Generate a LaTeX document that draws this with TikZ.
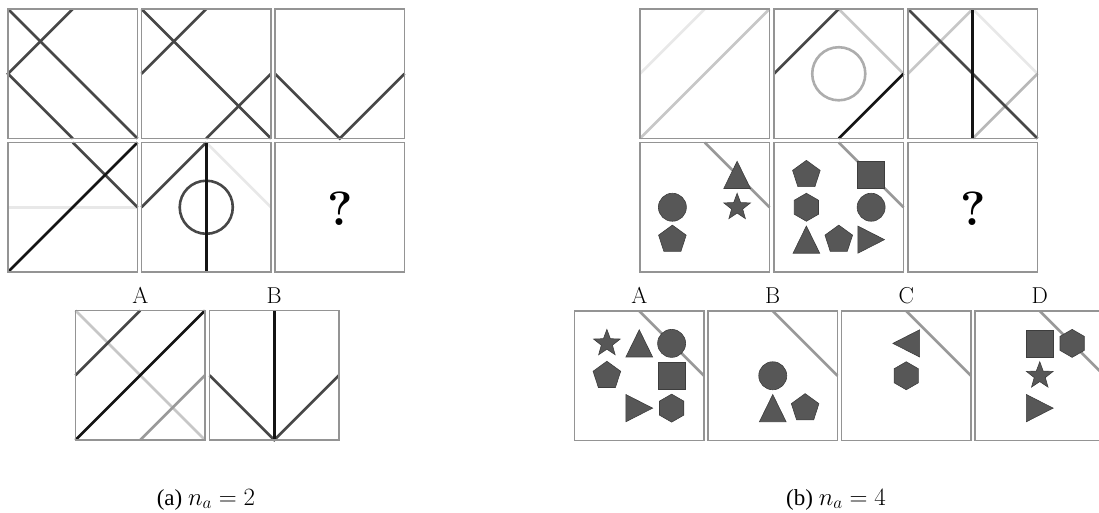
\documentclass[tikz,border=0pt]{standalone}
\usepackage{fontspec}
\usepackage{tikz}
\usetikzlibrary{shapes.geometric}
\newfontfamily\capfont{Liberation Serif}

\tikzset{
  cell/.style={shift={#1}, scale=129.5},
  frame/.style={draw=black!42, line width=1.4pt},
  ln/.style={line width=2.6pt},
  dk/.style={ln, draw=black!72},
  bk/.style={ln, draw=black!92},
  md/.style={ln, draw=black!40},
  lt/.style={ln, draw=black!22},
  vlt/.style={ln, draw=black!9},
  shp/.style={fill=black!66, draw=black!76, line width=0.6pt, inner sep=0pt, outer sep=0pt},
  circ/.style={shp, circle, minimum size=28pt},
  sqr/.style={shp, rectangle, minimum size=27pt},
  pent/.style={shp, regular polygon, regular polygon sides=5, minimum size=29pt},
  hexa/.style={shp, regular polygon, regular polygon sides=6, shape border rotate=30, minimum size=28pt},
  starr/.style={shp, star, star points=5, star point ratio=2.4, minimum size=28pt},
  qm/.style={font=\fontsize{48}{48}\selectfont\bfseries, inner sep=0pt},
  lab/.style={font=\fontsize{23}{23}\selectfont, anchor=base, inner sep=0pt},
  captext/.style={font=\fontsize{23}{27}\selectfont\capfont, anchor=base, inner sep=0pt},
}
% triangles drawn as paths, centre given in cell units
\newcommand{\triup}[2]{\filldraw[shp] (#1-0.103,#2+0.105) -- (#1+0.103,#2+0.105) -- (#1,#2-0.105) -- cycle;}
\newcommand{\triright}[2]{\filldraw[shp] (#1-0.103,#2-0.105) -- (#1-0.103,#2+0.105) -- (#1+0.103,#2) -- cycle;}
\newcommand{\trileft}[2]{\filldraw[shp] (#1+0.103,#2-0.105) -- (#1+0.103,#2+0.105) -- (#1-0.103,#2) -- cycle;}

\begin{document}
\begin{tikzpicture}[x=1pt, y=-1pt]
\useasboundingbox (0,0) rectangle (1099,512);
\clip (0,0) rectangle (1099,512);

% ---------- (a) left puzzle ----------
\begin{scope}[cell={(8,9)}]
  \draw[dk] (0,0) -- (1,1);
  \draw[dk] (0.5,0) -- (0,0.5) -- (0.5,1);
  \draw[frame] (0,0) rectangle (1,1);
\end{scope}
\begin{scope}[cell={(141.5,9)}]
  \draw[dk] (0,0) -- (1,1);
  \draw[dk] (0.5,0) -- (0,0.5);
  \draw[dk] (1,0.5) -- (0.5,1);
  \draw[frame] (0,0) rectangle (1,1);
\end{scope}
\begin{scope}[cell={(275,9)}]
  \draw[dk] (0,0.5) -- (0.5,1) -- (1,0.5);
  \draw[frame] (0,0) rectangle (1,1);
\end{scope}
\begin{scope}[cell={(8,142.5)}]
  \draw[vlt] (0,0.5) -- (1,0.5);
  \draw[dk] (0.5,0) -- (1,0.5);
  \draw[bk] (0,1) -- (1,0);
  \draw[frame] (0,0) rectangle (1,1);
\end{scope}
\begin{scope}[cell={(141.5,142.5)}]
  \draw[vlt] (0.5,0) -- (1,0.5);
  \draw[dk] (0,0.5) -- (0.5,0);
  \draw[dk] (0.5,0.5) circle (0.205);
  \draw[bk] (0.5,0) -- (0.5,1);
  \draw[frame] (0,0) rectangle (1,1);
\end{scope}
\begin{scope}[cell={(275,142.5)}]
  \node[qm] (lq) at (0.5,0.51) {?};
  \draw[frame] (0,0) rectangle (1,1);
\end{scope}
% answers
\begin{scope}[cell={(75.5,310.5)}]
  \draw[lt] (0,0) -- (1,1);
  \draw[dk] (0.5,0) -- (0,0.5);
  \draw[md] (0.5,1) -- (1,0.5);
  \draw[bk] (0,1) -- (1,0);
  \draw[frame] (0,0) rectangle (1,1);
\end{scope}
\begin{scope}[cell={(209.5,310.5)}]
  \draw[dk] (0,0.5) -- (0.5,1) -- (1,0.5);
  \draw[bk] (0.5,0) -- (0.5,1);
  \draw[frame] (0,0) rectangle (1,1);
\end{scope}
\node[lab] (la) at (140.25,303) {A};
\node[lab] (lb) at (274.25,303) {B};
\node[captext] (capa) at (206,505) {(a) $n_a=2$};

% ---------- (b) right puzzle ----------
\begin{scope}[cell={(640,9)}]
  \draw[vlt] (0.5,0) -- (0,0.5);
  \draw[lt] (1,0) -- (0,1);
  \draw[frame] (0,0) rectangle (1,1);
\end{scope}
\begin{scope}[cell={(774,9)}]
  \draw[lt] (0.5,0) -- (1,0.5);
  \draw[dk] (0.5,0) -- (0,0.5);
  \draw[bk] (1,0.5) -- (0.5,1);
  \draw[ln, draw=black!32] (0.5,0.5) circle (0.205);
  \draw[frame] (0,0) rectangle (1,1);
\end{scope}
\begin{scope}[cell={(908,9)}]
  \draw[vlt] (0.5,0) -- (1,0.5);
  \draw[lt] (0.5,0) -- (0,0.5);
  \draw[ln, draw=black!28] (1,0.5) -- (0.5,1);
  \draw[dk] (0,0) -- (1,1);
  \draw[bk] (0.5,0) -- (0.5,1);
  \draw[frame] (0,0) rectangle (1,1);
\end{scope}
\begin{scope}[cell={(640,142.5)}]
  \draw[md] (0.5,0) -- (1,0.5);
  \triup{0.75}{0.25}
  \node[starr] (r21s) at (0.75,0.5) {};
  \node[circ] (r21c) at (0.25,0.5) {};
  \node[pent] (r21p) at (0.25,0.75) {};
  \draw[frame] (0,0) rectangle (1,1);
\end{scope}
\begin{scope}[cell={(774,142.5)}]
  \draw[md] (0.5,0) -- (1,0.5);
  \node[pent] (r22p) at (0.25,0.25) {};
  \node[sqr] (r22q) at (0.75,0.25) {};
  \node[hexa] (r22h) at (0.25,0.5) {};
  \node[circ] (r22c) at (0.75,0.5) {};
  \triup{0.25}{0.75}
  \node[pent] (r22p2) at (0.5,0.75) {};
  \triright{0.75}{0.75}
  \draw[frame] (0,0) rectangle (1,1);
\end{scope}
\begin{scope}[cell={(908,142.5)}]
  \node[qm] (rq) at (0.5,0.51) {?};
  \draw[frame] (0,0) rectangle (1,1);
\end{scope}
% answers
\begin{scope}[cell={(574.5,311)}]
  \draw[md] (0.5,0) -- (1,0.5);
  \node[starr] (ras) at (0.25,0.25) {};
  \triup{0.5}{0.25}
  \node[circ] (rac) at (0.75,0.25) {};
  \node[pent] (rap) at (0.25,0.5) {};
  \node[sqr] (raq) at (0.75,0.5) {};
  \triright{0.5}{0.75}
  \node[hexa] (rah) at (0.75,0.75) {};
  \draw[frame] (0,0) rectangle (1,1);
\end{scope}
\begin{scope}[cell={(708,311)}]
  \draw[md] (0.5,0) -- (1,0.5);
  \node[circ] (rbc) at (0.5,0.5) {};
  \triup{0.5}{0.75}
  \node[pent] (rbp) at (0.75,0.75) {};
  \draw[frame] (0,0) rectangle (1,1);
\end{scope}
\begin{scope}[cell={(841.5,311)}]
  \draw[md] (0.5,0) -- (1,0.5);
  \trileft{0.5}{0.25}
  \node[hexa] (rch) at (0.5,0.5) {};
  \draw[frame] (0,0) rectangle (1,1);
\end{scope}
\begin{scope}[cell={(975,311)}]
  \draw[md] (0.5,0) -- (1,0.5);
  \node[sqr] (rdq) at (0.5,0.25) {};
  \node[hexa] (rdh) at (0.75,0.25) {};
  \node[starr] (rds) at (0.5,0.5) {};
  \triright{0.5}{0.75}
  \draw[frame] (0,0) rectangle (1,1);
\end{scope}
\node[lab] (ra) at (639.25,303) {A};
\node[lab] (rb) at (772.75,303) {B};
\node[lab] (rc) at (906.25,303) {C};
\node[lab] (rd) at (1039.75,303) {D};
\node[captext] (capb) at (836,505) {(b) $n_a=4$};
\end{tikzpicture}
\end{document}
